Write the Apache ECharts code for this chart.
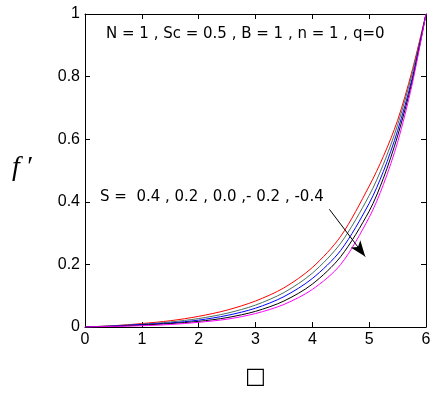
<!DOCTYPE html>
<html>
<head>
<meta charset="utf-8">
<script src="https://cdn.jsdelivr.net/npm/echarts@6/dist/echarts.min.js"></script>
<style>
  html, body { margin: 0; padding: 0; background: #fff; }
  #chart { width: 436px; height: 394px; }
</style>
</head>
<body>
<div id="chart"></div>
<script>
// eta values where the curves were read
const eta = [0, 0.5, 1, 1.5, 2, 2.5, 3, 3.5, 4, 4.5, 5, 5.25, 5.5, 5.75, 6];
// f' for S = 0.4, 0.2, 0.0, -0.2, -0.4
const sPos04 = [0, 0.004, 0.011, 0.02, 0.034, 0.054, 0.083, 0.125, 0.19, 0.29, 0.45, 0.545, 0.66, 0.815, 1];
const sPos02 = [0, 0.004, 0.009, 0.016, 0.027, 0.044, 0.07, 0.11, 0.172, 0.268, 0.42, 0.52, 0.645, 0.805, 1];
const sZero = [0, 0.003, 0.008, 0.013, 0.022, 0.037, 0.06, 0.097, 0.155, 0.245, 0.395, 0.497, 0.627, 0.79, 1];
const sNeg02 = [0, 0.002, 0.006, 0.011, 0.018, 0.03, 0.05, 0.083, 0.137, 0.225, 0.37, 0.475, 0.61, 0.78, 1];
const sNeg04 = [0, 0.002, 0.004, 0.008, 0.015, 0.025, 0.043, 0.072, 0.12, 0.2, 0.35, 0.455, 0.59, 0.77, 1];

const curves = [
  { name: 'S = 0.4', data: sPos04, color: '#ff0000' },
  { name: 'S = 0.2', data: sPos02, color: '#4a6e5c' },
  { name: 'S = 0.0', data: sZero, color: '#0000ff' },
  { name: 'S = -0.2', data: sNeg02, color: '#000000' },
  { name: 'S = -0.4', data: sNeg04, color: '#ff00ff' },
];

const chart = echarts.init(document.getElementById('chart'));

function axisBits(showLabel) {
  return {
    axisLine: { show: true, onZero: false, lineStyle: { color: '#000', width: 1 } },
    axisTick: { show: true, inside: true, length: 5, lineStyle: { color: '#000', width: 1 } },
    splitLine: { show: false },
    axisLabel: showLabel
      ? { show: true, margin: 5, color: '#000', fontSize: 16, fontFamily: 'Liberation Sans, Arial' }
      : { show: false },
  };
}

const series = curves.map((c) => ({
  name: c.name,
  type: 'line',
  showSymbol: false,
  smooth: 0.3,
  lineStyle: { color: c.color, width: 1 },
  data: eta.map((x, i) => [x, c.data[i]]),
}));

// arrow through the curves (direction of decreasing S)
series.push({
  type: 'line',
  data: [],
  markLine: {
    silent: true,
    symbol: ['none', 'arrow'],
    symbolSize: [9, 16],
    label: { show: false },
    lineStyle: { color: '#000', width: 1, type: 'solid' },
    data: [[{ coord: [4.3, 0.376] }, { coord: [4.93, 0.225] }]],
  },
});

const option = {
  animation: false,
  grid: { left: 85, top: 14, right: 10, bottom: 67 },
  xAxis: [
    Object.assign({ type: 'value', min: 0, max: 6, interval: 1 }, axisBits(true)),
    Object.assign({ type: 'value', min: 0, max: 6, interval: 1, position: 'top' }, axisBits(false)),
  ],
  yAxis: [
    Object.assign({ type: 'value', min: 0, max: 1, interval: 0.2 }, axisBits(true)),
    Object.assign({ type: 'value', min: 0, max: 1, interval: 0.2, position: 'right' }, axisBits(false)),
  ],
  graphic: [
    {
      type: 'text', left: 106, top: 27,
      style: { text: 'N = 1 , Sc = 0.5 , B = 1 , n = 1 , q=0', fill: '#000', font: '15px "DejaVu Sans"' },
    },
    {
      type: 'text', left: 100, top: 190,
      style: { text: 'S =  0.4 , 0.2 , 0.0 ,- 0.2 , -0.4', fill: '#000', font: '15px "DejaVu Sans"' },
    },
    {
      type: 'text', left: 12, top: 154,
      style: { text: 'f\u2009\u2032', fill: '#000', font: 'italic 28px "Liberation Serif", "DejaVu Serif", serif' },
    },
    {
      type: 'text', left: 245, top: 366,
      style: { text: '\u25A1', fill: '#000', font: '22px "DejaVu Sans"' },
    },
  ],
  series: series,
};

chart.setOption(option);
</script>
</body>
</html>
